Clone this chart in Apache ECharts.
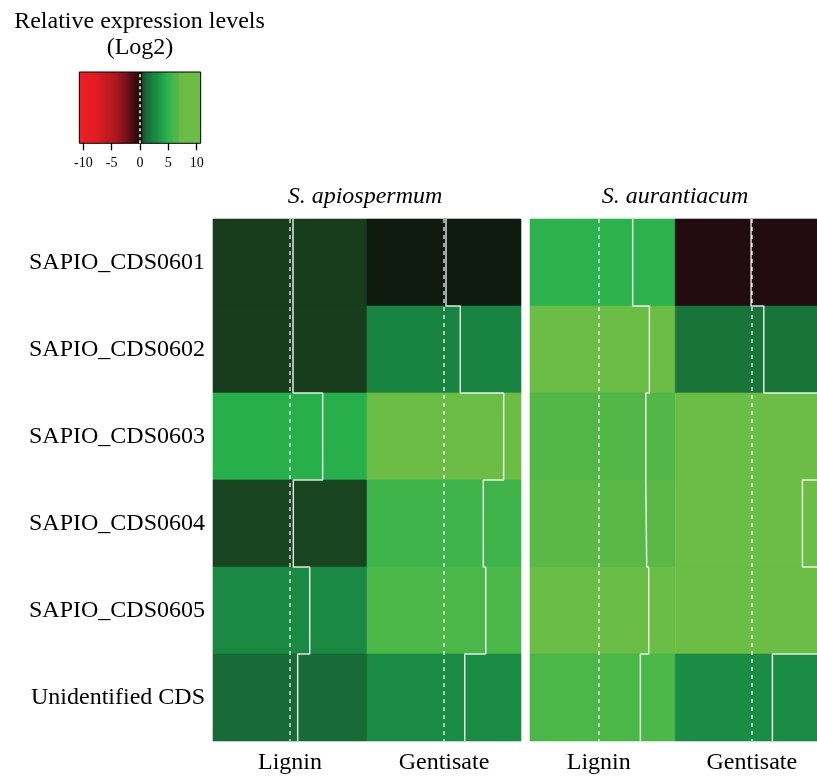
<!DOCTYPE html>
<html><head><meta charset="utf-8">
<script src="https://cdn.jsdelivr.net/npm/echarts@6/dist/echarts.min.js"></script>
<style>html,body{margin:0;padding:0;background:#fff}#c{width:817px;height:776px}</style>
</head><body><div id="c"></div>
<script>
// ---- data ----
const rowLabels = ['SAPIO_CDS0601','SAPIO_CDS0602','SAPIO_CDS0603','SAPIO_CDS0604','SAPIO_CDS0605','Unidentified CDS'];
const conditions = ['Lignin','Gentisate'];
const species = ['S. apiospermum','S. aurantiacum'];
const apioLignin    = [0.42, 0.42, 4.54, 0.46, 2.74, 1.07];
const apioGentisate = [0.28, 2.26, 8.29, 5.46, 5.80, 2.88];
const aurLignin     = [4.75, 7.08, 6.58, 6.71, 6.99, 5.82];
const aurGentisate  = [-0.10, 1.68, 9.80, 7.08, 9.60, 2.88];
const keyTicks = [-10, -5, 0, 5, 10];
const keyRange = [-10.7, 10.7];
const keyTitle = ['Relative expression levels', '(Log2)'];

// ---- colour scale (style) ----
const colorStops = [
 [-10.7,'#EE1D25'],[-7.5,'#E01C24'],[-4,'#A6171F'],[-2,'#6A0F15'],[-0.8,'#3A0A0E'],
 [-0.1,'#220C10'],[0.05,'#0E0F0C'],[0.28,'#0D170D'],[0.44,'#1B4621'],[1.07,'#186B37'],
 [1.68,'#187339'],[2.26,'#198541'],[2.8,'#198A43'],[4.6,'#28B04B'],[4.75,'#2BB24D'],
 [5.46,'#3EB34A'],[5.8,'#4BB749'],[6.58,'#52B748'],[6.71,'#58B848'],[6.99,'#6BBD45'],[10.7,'#6BBD45']];
function hex2rgb(h){return [parseInt(h.slice(1,3),16),parseInt(h.slice(3,5),16),parseInt(h.slice(5,7),16)];}
function colorAt(v){
  if (v <= colorStops[0][0]) return colorStops[0][1];
  for (let i=1;i<colorStops.length;i++){
    if (v <= colorStops[i][0]){
      const a=colorStops[i-1], b=colorStops[i];
      const t=(v-a[0])/(b[0]-a[0]);
      const ca=hex2rgb(a[1]), cb=hex2rgb(b[1]);
      const c=ca.map((x,k)=>Math.round(x+(cb[k]-x)*t));
      return 'rgb('+c.join(',')+')';
    }
  }
  return colorStops[colorStops.length-1][1];
}
const N = 215;
const sampled = [];
for (let i=0;i<N;i++) sampled.push(colorAt(keyRange[0] + (keyRange[1]-keyRange[0])*i/(N-1)));

const serif = "'Liberation Serif','Times New Roman',serif";
const traceColor = 'rgba(255,255,255,0.85)';

function cellData(a, b){
  const d=[];
  a.forEach((v,r)=>d.push([0,r,v]));
  b.forEach((v,r)=>d.push([1,r,v]));
  return d;
}
function renderCell(params, api){
  const c=api.value(0), r=api.value(1);
  const p0=api.coord([c,r]), p1=api.coord([c+1,r+1]);
  const cs=params.coordSys;
  let x0=Math.max(Math.min(p0[0],p1[0]), cs.x), x1=Math.min(Math.max(p0[0],p1[0]), cs.x+cs.width);
  let y0=Math.max(Math.min(p0[1],p1[1]), cs.y), y1=Math.min(Math.max(p0[1],p1[1]), cs.y+cs.height);
  if (x1<=x0 || y1<=y0) return null;
  return {type:'rect', shape:{x:x0,y:y0,width:x1-x0,height:y1-y0},
          style:{fill:api.visual('color'), stroke:api.visual('color'), lineWidth:0.6}};
}
function traceData(values, col){
  const d=[];
  values.forEach((v,r)=>{
    const x = col + (v-keyRange[0])/(keyRange[1]-keyRange[0]);
    d.push([x,r]); d.push([x,r+1]);
  });
  return d;
}
function traceSeries(values, col, gi){
  return {type:'line', xAxisIndex:gi, yAxisIndex:gi, data:traceData(values,col),
    symbol:'none', showSymbol:false, z:5, clip:true,
    lineStyle:{color:traceColor, width:1.5},
    markLine:{silent:true, symbol:['none','none'], label:{show:false}, animation:false,
      lineStyle:{type:[4,4], color:'rgba(255,255,255,0.8)', width:1.5},
      data:[{xAxis: col + (0-keyRange[0])/(keyRange[1]-keyRange[0])}]}};
}
function panelX(gi, min, max){
  return {type:'value', gridIndex:gi, min:min, max:max,
    axisLine:{show:false}, axisTick:{show:false}, splitLine:{show:false},
    axisLabel:{customValues:[0.5,1.5], formatter:v=>conditions[Math.floor(v)],
      fontFamily:serif, fontSize:24, color:'#000', margin:10}};
}
function panelY(gi, showLabels){
  return {type:'value', gridIndex:gi, min:0, max:6, inverse:true,
    axisLine:{show:false}, axisTick:{show:false}, splitLine:{show:false},
    axisLabel:{show:showLabels, customValues:[0.5,1.5,2.5,3.5,4.5,5.5], formatter:v=>rowLabels[Math.floor(v)],
      fontFamily:serif, fontSize:24, color:'#000', margin:8}};
}

const chart = echarts.init(document.getElementById('c'), null, {renderer:'canvas'});
chart.setOption({
  animation:false,
  backgroundColor:'#fff',
  grid:[
    {left:213, top:219, width:308, height:522},
    {left:530, top:219, width:287, height:522},
    {left:83.3, top:72, width:113.4, height:71.3}
  ],
  xAxis:[
    panelX(0, 0, 2),
    panelX(1, 0.051, 1.926),
    {type:'value', gridIndex:2, min:-10, max:10, interval:5,
     axisLine:{show:false}, splitLine:{show:false},
     axisTick:{show:true, length:7, lineStyle:{color:'#000', width:1.3}},
     axisLabel:{fontFamily:serif, fontSize:14, color:'#000', margin:13, formatter:v=>String(v)}}
  ],
  yAxis:[
    panelY(0, true),
    panelY(1, false),
    {type:'value', gridIndex:2, min:0, max:1, show:false}
  ],
  visualMap:{type:'continuous', show:false, min:keyRange[0], max:keyRange[1], dimension:2,
    seriesIndex:[0,1], inRange:{color:sampled}},
  series:[
    {type:'custom', xAxisIndex:0, yAxisIndex:0, data:cellData(apioLignin, apioGentisate), encode:{x:0,y:1}, renderItem:renderCell, z:1},
    {type:'custom', xAxisIndex:1, yAxisIndex:1, data:cellData(aurLignin, aurGentisate), encode:{x:0,y:1}, renderItem:renderCell, z:1},
    traceSeries(apioLignin, 0, 0),
    traceSeries(apioGentisate, 1, 0),
    traceSeries(aurLignin, 0, 1),
    traceSeries(aurGentisate, 1, 1),
    {type:'custom', xAxisIndex:2, yAxisIndex:2, data:[[keyRange[0], keyRange[1]]], encode:{x:[0,1]},
     renderItem:function(params, api){
       const p0=api.coord([api.value(0),1]), p1=api.coord([api.value(1),0]);
       return {type:'rect', shape:{x:p0[0], y:p0[1], width:p1[0]-p0[0], height:p1[1]-p0[1]},
         style:{fill:new echarts.graphic.LinearGradient(0,0,1,0,
            colorStops.map(s=>({offset:(s[0]-keyRange[0])/(keyRange[1]-keyRange[0]), color:s[1]}))),
            stroke:'#000', lineWidth:1}};
     },
     markLine:{silent:true, symbol:['none','none'], label:{show:false}, animation:false,
       lineStyle:{type:[3,3], color:'#fff', width:1.5}, data:[{xAxis:0}]}}
  ],
  graphic:[
    {type:'text', x:139.5, y:22, style:{text:keyTitle[0], font:'24px '+serif, fill:'#000', textAlign:'center', textVerticalAlign:'middle'}},
    {type:'text', x:140, y:48, style:{text:keyTitle[1], font:'24px '+serif, fill:'#000', textAlign:'center', textVerticalAlign:'middle'}},
    {type:'text', x:365, y:197, style:{text:species[0], font:'italic 24px '+serif, fill:'#000', textAlign:'center', textVerticalAlign:'middle'}},
    {type:'text', x:675, y:197, style:{text:species[1], font:'italic 24px '+serif, fill:'#000', textAlign:'center', textVerticalAlign:'middle'}}
  ]
});
</script></body></html>
